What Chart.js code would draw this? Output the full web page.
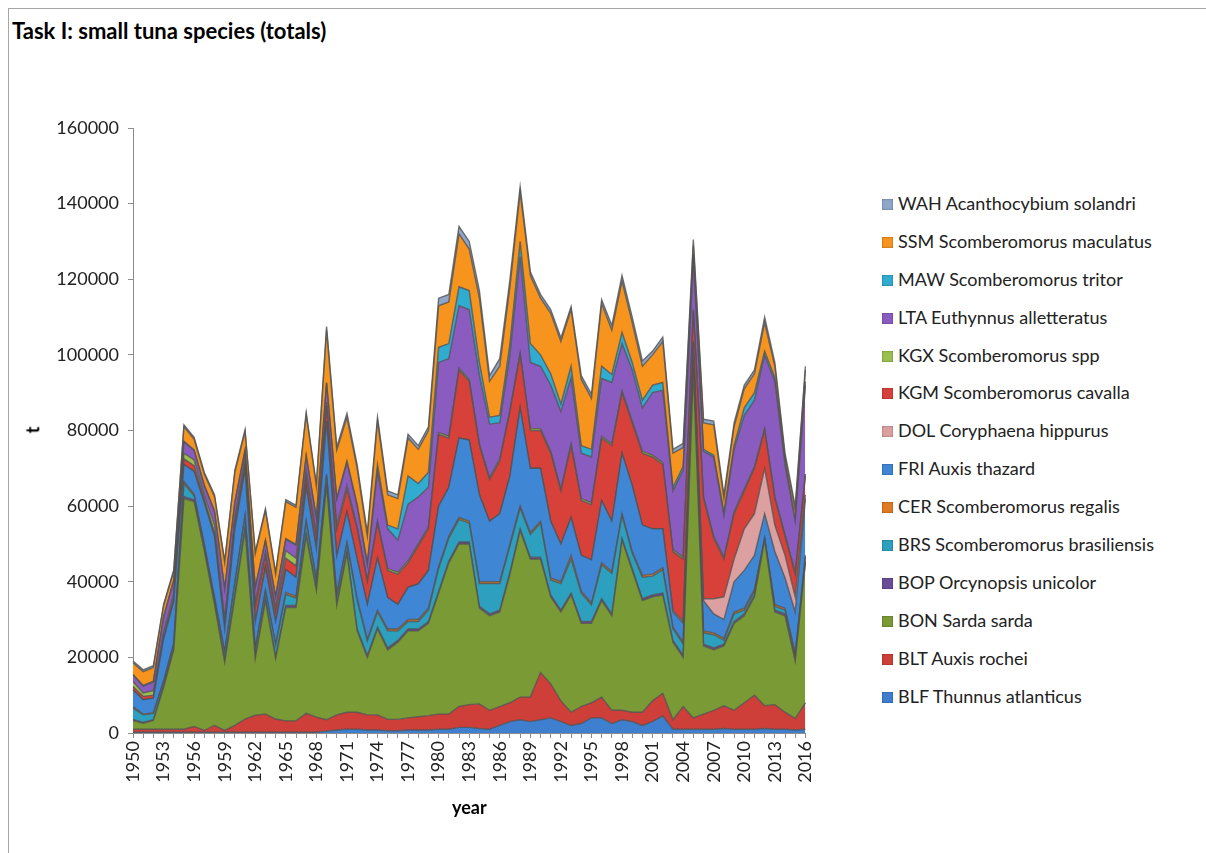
<!DOCTYPE html>
<html>
<head>
<meta charset="utf-8">
<script src="https://cdn.jsdelivr.net/npm/chart.js@4.4.1/dist/chart.umd.min.js"></script>
<style>
  html, body { margin: 0; padding: 0; background: #fff; }
  body { width: 1206px; height: 853px; position: relative; overflow: hidden; font-family: Lato, "Liberation Sans", sans-serif; }
  #frame { position: absolute; left: 8px; top: 8px; width: 1220px; height: 870px; border: 1px solid #a6a6a6; }
  #title { position: absolute; left: 12px; top: 17px; font-size: 22px; font-weight: bold; color: #000; }
  #chart-wrap { position: absolute; left: 0; top: 0; width: 830px; height: 853px; }
  #ytitle { position: absolute; left: 29px; top: 419px; font-size: 18px; font-weight: bold; transform: rotate(-90deg); }
  #xtitle { position: absolute; left: 452px; top: 796px; font-size: 18px; font-weight: bold; }
  #legend { position: absolute; left: 882px; top: 192px; }
  .item { height: 37.9px; display: flex; align-items: flex-start; font-size: 18px; color: #222; white-space: nowrap; }
  .box { width: 11px; height: 11px; margin-right: 5px; margin-top: 7px; box-shadow: inset 0 0 2px rgba(0,0,0,0.45); }
</style>
</head>
<body>
<div id="frame"></div>
<div id="title">Task I: small tuna species (totals)</div>
<div id="chart-wrap"><canvas id="tuna-chart" width="830" height="853"></canvas></div>
<div id="ytitle">t</div>
<div id="xtitle">year</div>
<div id="legend"></div>
<script>
// 年 (1950-2016)
const years = [];
for (let y = 1950; y <= 2016; y++) years.push(String(y));

// 各魚種の漁獲量 (t) -- 下から積み上げ順
const blf = [200,200,200,200,200,200,200,200,200,200,200,200,200,200,200,200,200,200,200,500,
  800,1000,1000,800,800,600,600,800,800,800,1000,1000,1500,1500,1200,1000,2000,3000,3500,3000,
  3500,4000,3000,2000,2500,4000,4000,2500,3500,3000,2000,3000,4500,1000,1000,1000,1000,1000,1200,1000,
  1000,1000,1200,1000,1000,800,1000];
const blt = [800,800,800,800,800,800,1500,500,1800,500,1800,3500,4500,4800,3500,3000,3000,5000,4000,3000,
  4000,4500,4500,4000,4000,3000,3000,3200,3500,3800,4000,4000,5500,6000,6500,5000,5000,5000,6000,6500,
  12500,9000,5500,3500,4500,4000,5500,3500,2500,2500,3500,5500,6000,2500,6000,3000,4000,5000,6000,5000,
  7000,9000,6000,6500,4500,3000,7000];
const bon = [2300,1600,2300,11000,21000,61000,59500,47500,32000,18000,34000,50000,15000,30000,16000,30000,30000,47000,33500,62000,
  29000,42000,21500,15200,22700,18400,20400,23000,22700,24400,32000,40000,43000,42500,25300,25000,25000,34000,44000,36500,
  30000,23000,23500,31000,22000,21000,25500,25000,45000,37500,29500,27500,26000,20500,13000,92000,18000,16000,15800,23000,
  23000,26000,43800,24500,25500,15200,37000];
const bop = [300,200,200,500,500,500,500,400,500,500,500,500,400,500,500,500,500,500,500,500,
  500,500,500,500,500,500,500,500,500,500,500,500,500,500,500,500,500,500,500,500,
  500,500,500,500,500,500,500,500,500,500,500,500,500,500,500,500,500,500,500,500,
  500,500,200,500,500,500,500];
const brs = [3000,2000,1700,1000,1000,3500,1000,800,1000,2000,3000,3000,2000,2000,3000,3000,2000,3000,2000,2000,
  2000,2000,7500,3800,4000,4500,2500,2000,2000,3000,6000,6000,6000,5000,6000,8000,7000,7000,5500,6000,
  9000,4000,7000,9000,7500,4400,9000,10700,6000,4000,5700,5000,6200,3000,3000,2000,3000,3500,1000,2000,
  1000,1000,200,1000,1000,1000,1000];
const cer = [300,200,200,300,300,500,500,500,500,300,500,500,300,300,300,500,500,500,500,500,
  500,500,500,500,500,500,500,500,500,500,500,500,500,500,500,500,500,500,500,500,
  500,500,500,1000,500,500,500,500,500,500,500,500,500,500,500,500,500,500,500,500,
  500,500,100,500,500,500,500];
const fri = [4500,3800,3800,11000,11000,4500,6000,11000,16000,6000,14000,12000,7000,6000,6000,6000,5000,9000,8000,14000,
  10000,8000,10500,9200,13800,8300,6500,8500,9400,10000,16000,13000,21000,21500,23000,16000,18000,18000,26000,17000,
  14000,15000,10000,10000,9500,11400,16500,13300,16000,17500,13300,12000,10300,4000,5000,4000,8000,5000,5000,8000,
  10000,9000,6500,14000,8000,11000,15000];
const dol = [0,0,0,0,0,0,0,0,0,0,0,0,0,0,0,0,0,0,0,0,
  0,0,0,0,0,0,0,0,0,0,0,0,0,0,0,0,0,0,0,0,
  0,0,0,0,0,0,0,0,0,0,0,0,0,500,500,500,500,4000,6000,6000,
  11000,11000,12000,7000,6000,4000,1000];
const kgm = [900,900,800,800,1000,1500,1500,1000,1000,1500,2000,2000,4000,3000,2500,3000,3000,3000,3000,4000,
  7000,6000,8000,6000,9200,7200,8000,6500,10100,11000,19000,13000,18000,15500,13000,11000,14000,17000,14000,10000,
  10000,18000,14000,19000,14500,14600,16500,20000,16000,16500,19000,19000,17000,15500,16500,8000,26500,16000,10000,12000,
  10000,12000,10000,7000,5000,6000,5000];
const kgx = [1300,900,1200,1000,1000,1500,1500,1000,2000,1000,1000,1000,1000,1000,1000,2000,2000,1000,1000,1000,
  1000,1000,500,500,500,500,500,500,500,500,500,500,500,500,500,500,500,500,500,500,
  500,500,500,500,500,500,500,500,500,500,500,500,500,500,500,500,500,500,500,500,
  500,500,500,500,500,500,500];
const lta = [1700,1800,2300,4000,3500,3000,2500,2500,3500,8000,4000,2000,4000,3000,3000,3000,3500,4000,4000,5000,
  7000,6000,5500,4000,13200,10500,8500,15000,12400,10500,18500,20500,16500,18500,18000,14200,9500,14500,25500,17500,
  16500,17500,20500,17500,12000,12100,15250,16200,12500,13500,11500,16500,19100,15500,23000,13500,12000,21000,11000,16500,
  19500,17500,19500,30500,18500,13500,23500];
const maw = [200,200,200,200,200,200,200,200,200,200,200,200,200,200,200,200,200,200,200,200,
  300,500,500,500,1800,1000,3000,7500,3600,4000,4000,4000,5000,5000,3500,1800,2000,3000,4000,5000,
  3000,3000,2000,3000,2000,2000,3250,2100,3000,2000,2000,2000,2100,1000,1000,1000,500,500,1000,1000,
  2000,2000,1000,1000,500,500,1000];
const ssm = [3000,3600,3600,2800,2300,3800,2800,2800,3800,6800,7800,4800,8800,7800,5800,9800,9800,10800,8300,13800,
  12700,11500,9500,7000,11500,8000,8000,10000,9000,11000,11000,11000,14000,11000,17000,9500,13000,15000,13000,18000,
  15000,16000,16500,15000,17500,13500,16500,11700,13500,10500,9000,8000,10800,9000,5000,2500,7000,8000,3500,5000,
  5000,5000,7500,3000,1500,2500,3000];
const wah = [500,500,500,400,300,500,500,500,500,500,500,500,500,500,500,500,500,500,500,1000,
  800,1000,1000,1000,1000,1000,1000,1000,1000,1000,2000,2000,2000,2000,2000,1500,2000,2000,1500,1000,
  1000,1000,1000,800,1000,1100,1100,1300,1500,1500,1400,1000,1200,1000,1100,1500,1000,1000,1000,1000,
  1000,1000,1500,1000,1000,1000,1000];

const seriesNames = [
  'BLF Thunnus atlanticus', 'BLT Auxis rochei', 'BON Sarda sarda', 'BOP Orcynopsis unicolor',
  'BRS Scomberomorus brasiliensis', 'CER Scomberomorus regalis', 'FRI Auxis thazard',
  'DOL Coryphaena hippurus', 'KGM Scomberomorus cavalla', 'KGX Scomberomorus spp',
  'LTA Euthynnus alletteratus', 'MAW Scomberomorus tritor', 'SSM Scomberomorus maculatus',
  'WAH Acanthocybium solandri'
];
const seriesValues = [blf, blt, bon, bop, brs, cer, fri, dol, kgm, kgx, lta, maw, ssm, wah];
const seriesColors = [
  '#3f7fcf', '#cf3f3a', '#7a9a35', '#6b4c9a', '#2ea0bf', '#e07b22', '#3f86d4',
  '#dca0a0', '#d8413a', '#9cc050', '#8a5cc0', '#30acd0', '#f7941e', '#8ea6c8'
];

document.addEventListener("DOMContentLoaded", () => {
  const ctx = document.getElementById('tuna-chart').getContext('2d');

  const datasets = seriesNames.map((name, i) => ({
    label: name,
    data: seriesValues[i],
    backgroundColor: seriesColors[i],
    borderColor: 'rgba(80,80,80,0.8)',
    borderWidth: 1.4,
    fill: i === 0 ? 'origin' : '-1',
    pointRadius: 0,
    tension: 0
  }));

  new Chart(ctx, {
    type: 'line',
    data: { labels: years, datasets: datasets },
    options: {
      responsive: false,
      animation: false,
      layout: { padding: { top: 128, right: 23, bottom: 0, left: 0 } },
      plugins: { legend: { display: false }, tooltip: { enabled: false } },
      scales: {
        x: {
          offset: false,
          afterFit: (scale) => { scale.height = 120; },
          grid: { display: true, drawOnChartArea: false, drawTicks: true, tickLength: 5, color: '#8c8c8c' },
          border: { color: '#8c8c8c' },
          ticks: {
            autoSkip: false, minRotation: 90, maxRotation: 90, padding: 3,
            color: '#222', font: { family: 'Lato', size: 18 },
            callback: function (value, index) { return index % 3 === 0 ? this.getLabelForValue(value) : ''; }
          }
        },
        y: {
          stacked: true,
          min: 0, max: 160000,
          afterFit: (scale) => { scale.width = 133; },
          grid: { display: true, drawOnChartArea: false, drawTicks: true, tickLength: 5, color: '#8c8c8c' },
          border: { color: '#8c8c8c' },
          ticks: { stepSize: 20000, padding: 9, color: '#222', font: { family: 'Lato', size: 18 }, callback: v => String(v) }
        }
      }
    }
  });

  // 凡例 (上から逆順)
  const legend = document.getElementById('legend');
  for (let i = seriesNames.length - 1; i >= 0; i--) {
    const item = document.createElement('div');
    item.className = 'item';
    item.innerHTML = `<span class="box" style="background:${seriesColors[i]}"></span><span>${seriesNames[i]}</span>`;
    legend.appendChild(item);
  }
});
</script>
</body>
</html>
